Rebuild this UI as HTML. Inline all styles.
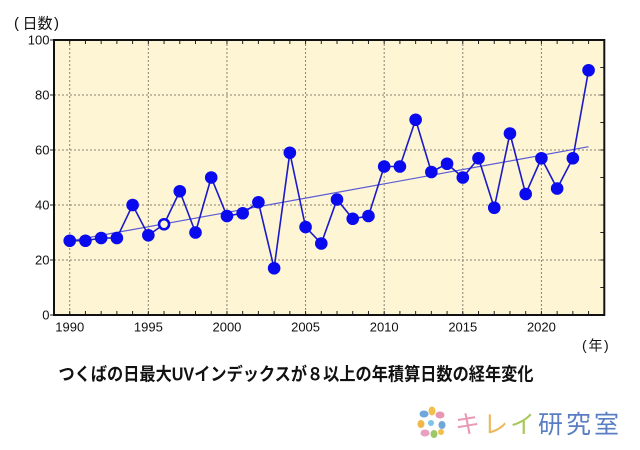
<!DOCTYPE html>
<html>
<head>
<meta charset="utf-8">
<style>
html,body{margin:0;padding:0;background:#fff;}
svg{display:block;}
</style>
</head>
<body>
<svg width="640" height="450" viewBox="0 0 640 450" xmlns="http://www.w3.org/2000/svg">
  <rect x="0" y="0" width="640" height="450" fill="#ffffff"/>
  <!-- plot background -->
  <rect x="54" y="40" width="550.3" height="275" fill="#fdf5d4"/>
  <!-- grid -->
  <g stroke="#8a8270" stroke-width="1" stroke-dasharray="2,2" fill="none">
    <line x1="54" y1="95" x2="604.3" y2="95"/>
    <line x1="54" y1="150" x2="604.3" y2="150"/>
    <line x1="54" y1="205" x2="604.3" y2="205"/>
    <line x1="54" y1="260" x2="604.3" y2="260"/>
    <line x1="69.72" y1="40" x2="69.72" y2="315"/>
    <line x1="148.34" y1="40" x2="148.34" y2="315"/>
    <line x1="226.95" y1="40" x2="226.95" y2="315"/>
    <line x1="305.57" y1="40" x2="305.57" y2="315"/>
    <line x1="384.18" y1="40" x2="384.18" y2="315"/>
    <line x1="462.80" y1="40" x2="462.80" y2="315"/>
    <line x1="541.41" y1="40" x2="541.41" y2="315"/>
  </g>
  <!-- ticks -->
  <g stroke="#222" stroke-width="1" fill="none">
    <path d="M69.72 40v4M85.44 40v4M101.17 40v4M116.89 40v4M132.61 40v4M148.34 40v4M164.06 40v4M179.78 40v4M195.50 40v4M211.23 40v4M226.95 40v4M242.67 40v4M258.40 40v4M274.12 40v4M289.84 40v4M305.57 40v4M321.29 40v4M337.01 40v4M352.73 40v4M368.46 40v4M384.18 40v4M399.90 40v4M415.63 40v4M431.35 40v4M447.07 40v4M462.80 40v4M478.52 40v4M494.24 40v4M509.96 40v4M525.69 40v4M541.41 40v4M557.13 40v4M572.86 40v4M588.58 40v4"/>
    <path d="M69.72 315v-4M85.44 315v-4M101.17 315v-4M116.89 315v-4M132.61 315v-4M148.34 315v-4M164.06 315v-4M179.78 315v-4M195.50 315v-4M211.23 315v-4M226.95 315v-4M242.67 315v-4M258.40 315v-4M274.12 315v-4M289.84 315v-4M305.57 315v-4M321.29 315v-4M337.01 315v-4M352.73 315v-4M368.46 315v-4M384.18 315v-4M399.90 315v-4M415.63 315v-4M431.35 315v-4M447.07 315v-4M462.80 315v-4M478.52 315v-4M494.24 315v-4M509.96 315v-4M525.69 315v-4M541.41 315v-4M557.13 315v-4M572.86 315v-4M588.58 315v-4"/>
    <path d="M604.3 67.5h-4M604.3 95h-4M604.3 122.5h-4M604.3 150h-4M604.3 177.5h-4M604.3 205h-4M604.3 232.5h-4M604.3 260h-4M604.3 287.5h-4"/>
    <path d="M54 40h-4M54 95h-4M54 150h-4M54 205h-4M54 260h-4M54 315h-4"/>
  </g>
  <!-- frame -->
  <rect x="54" y="40" width="550.3" height="275" fill="none" stroke="#111" stroke-width="2"/>
  <!-- trend line -->
  <line x1="69.72" y1="241.0" x2="588.58" y2="146.7" stroke="#5b5bd6" stroke-width="1.2"/>
  <!-- data line -->
  <polyline fill="none" stroke="#1a1ac8" stroke-width="1.6" points="69.72,240.75 85.44,240.75 101.17,238 116.89,238 132.61,205 148.34,235.25 164.06,224.25 179.78,191.25 195.50,232.5 211.23,177.5 226.95,216 242.67,213.25 258.40,202.25 274.12,268.25 289.84,152.75 305.57,227 321.29,243.5 337.01,199.5 352.73,218.75 368.46,216 384.18,166.5 399.90,166.5 415.63,119.75 431.35,172 447.07,163.75 462.80,177.5 478.52,158.25 494.24,207.75 509.96,133.5 525.69,194 541.41,158.25 557.13,188.5 572.86,158.25 588.58,70.25"/>
  <!-- markers -->
  <g fill="#0a0aee">
    <circle cx="69.72" cy="240.75" r="6.3"/>
    <circle cx="85.44" cy="240.75" r="6.3"/>
    <circle cx="101.17" cy="238" r="6.3"/>
    <circle cx="116.89" cy="238" r="6.3"/>
    <circle cx="132.61" cy="205" r="6.3"/>
    <circle cx="148.34" cy="235.25" r="6.3"/>
    <circle cx="179.78" cy="191.25" r="6.3"/>
    <circle cx="195.50" cy="232.5" r="6.3"/>
    <circle cx="211.23" cy="177.5" r="6.3"/>
    <circle cx="226.95" cy="216" r="6.3"/>
    <circle cx="242.67" cy="213.25" r="6.3"/>
    <circle cx="258.40" cy="202.25" r="6.3"/>
    <circle cx="274.12" cy="268.25" r="6.3"/>
    <circle cx="289.84" cy="152.75" r="6.3"/>
    <circle cx="305.57" cy="227" r="6.3"/>
    <circle cx="321.29" cy="243.5" r="6.3"/>
    <circle cx="337.01" cy="199.5" r="6.3"/>
    <circle cx="352.73" cy="218.75" r="6.3"/>
    <circle cx="368.46" cy="216" r="6.3"/>
    <circle cx="384.18" cy="166.5" r="6.3"/>
    <circle cx="399.90" cy="166.5" r="6.3"/>
    <circle cx="415.63" cy="119.75" r="6.3"/>
    <circle cx="431.35" cy="172" r="6.3"/>
    <circle cx="447.07" cy="163.75" r="6.3"/>
    <circle cx="462.80" cy="177.5" r="6.3"/>
    <circle cx="478.52" cy="158.25" r="6.3"/>
    <circle cx="494.24" cy="207.75" r="6.3"/>
    <circle cx="509.96" cy="133.5" r="6.3"/>
    <circle cx="525.69" cy="194" r="6.3"/>
    <circle cx="541.41" cy="158.25" r="6.3"/>
    <circle cx="557.13" cy="188.5" r="6.3"/>
    <circle cx="572.86" cy="158.25" r="6.3"/>
    <circle cx="588.58" cy="70.25" r="6.3"/>
  </g>
  <circle cx="164.06" cy="224.25" r="5" fill="#fdf5d4" stroke="#0a0aee" stroke-width="2.6"/>
  <!-- y labels -->
  <g font-family="Liberation Sans, sans-serif" font-size="13" fill="#111" text-anchor="end">
    <text x="49.5" y="44.5">100</text>
    <text x="49.5" y="99.5">80</text>
    <text x="49.5" y="154.5">60</text>
    <text x="49.5" y="209.5">40</text>
    <text x="49.5" y="264.5">20</text>
    <text x="49.5" y="319.5">0</text>
  </g>
  <!-- x labels -->
  <g font-family="Liberation Sans, sans-serif" font-size="13" fill="#111" text-anchor="middle">
    <text x="69.72" y="331.5">1990</text>
    <text x="148.34" y="331.5">1995</text>
    <text x="226.95" y="331.5">2000</text>
    <text x="305.57" y="331.5">2005</text>
    <text x="384.18" y="331.5">2010</text>
    <text x="462.80" y="331.5">2015</text>
    <text x="541.41" y="331.5">2020</text>
  </g>
  <!-- axis titles -->
  <g font-family="Liberation Sans, Noto Sans CJK JP, sans-serif" fill="#111">
    <text x="14" y="28" font-size="15">(</text>
    <text x="22.5" y="28.5" font-size="15" font-family="Noto Sans CJK JP, sans-serif">日数</text>
    <text x="54" y="28" font-size="15">)</text>
    <text x="582" y="350" font-size="14">(</text>
    <text x="588.5" y="350.5" font-size="14" font-family="Noto Sans CJK JP, sans-serif">年</text>
    <text x="604" y="350" font-size="14">)</text>
  </g>
  <!-- title -->
  <text x="58.5" y="380.5" font-family="Liberation Sans, Noto Sans CJK JP, sans-serif" font-size="18" font-weight="bold" fill="#111" textLength="475" lengthAdjust="spacingAndGlyphs">つくばの日最大UVインデックスが８以上の年積算日数の経年変化</text>
  <!-- logo icon -->
  <g>
    <ellipse cx="424" cy="414" rx="4.5" ry="3.5" fill="#6fa6dc"/>
    <ellipse cx="432" cy="411" rx="3.5" ry="4.5" fill="#f2c04a"/>
    <ellipse cx="440" cy="415" rx="4.5" ry="3.5" fill="#e896b4"/>
    <ellipse cx="421" cy="424" rx="3.5" ry="4" fill="#f0b84a"/>
    <ellipse cx="431" cy="423" rx="3" ry="3" fill="#7ec4e8"/>
    <ellipse cx="442" cy="425" rx="3.5" ry="4" fill="#6fa6dc"/>
    <ellipse cx="425" cy="433" rx="4.5" ry="3.5" fill="#e8a0c0"/>
    <ellipse cx="434" cy="434" rx="3.5" ry="4" fill="#9cc86a"/>
    <ellipse cx="441" cy="432" rx="3" ry="3" fill="#f2c04a"/>
  </g>
  <!-- logo text -->
  <g font-family="Liberation Sans, Noto Sans CJK JP, sans-serif" font-size="25">
    <text x="455" y="433" fill="#e89ab4">キ</text>
    <text x="483" y="433" fill="#ebb85c">レ</text>
    <text x="510" y="433" fill="#a8c85c">イ</text>
    <text x="538" y="433" fill="#5a7ec4">研</text>
    <text x="566" y="433" fill="#5a7ec4">究</text>
    <text x="594" y="433" fill="#5a7ec4">室</text>
  </g>
</svg>
</body>
</html>
